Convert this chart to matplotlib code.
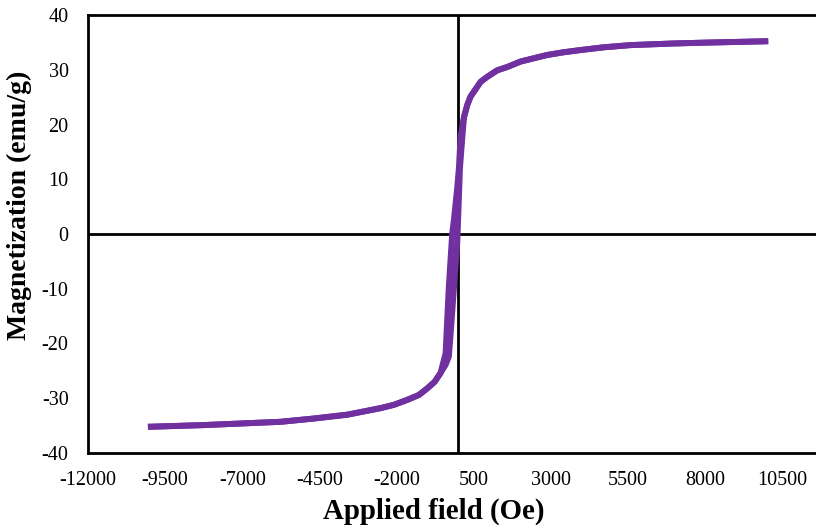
import matplotlib.pyplot as plt
import numpy as np

# rama descendente (campo de +10000 a -10000)
H_bajada = [9960, 8000, 7000, 5590, 4725, 3970, 3430, 2890, 2025, 1595, 1270, 945, 730, 405,
            300, 190, 135, 80, 30, -25, -135, -190, -300, -405, -570, -760, -1000, -1270,
            -1650, -2080, -2510, -3590, -4670, -5750, -8240, -9960]
M_bajada = [35.2, 34.95, 34.8, 34.5, 34.1, 33.6, 33.2, 32.7, 31.5, 30.5, 29.9, 28.7, 27.8, 25.1,
            23.6, 21.4, 19.5, 17.8, 12.3, 8.6, 2.6, 0.1, -9.6, -21.8, -25.4, -27.0, -28.2, -29.4,
            -30.3, -31.2, -31.8, -33.0, -33.7, -34.3, -34.9, -35.2]

# rama ascendente (campo de -10000 a +10000)
H_subida = [-9960, -8240, -5750, -4670, -3590, -2510, -2080, -1650, -1270, -1000, -760, -570,
            -405, -300, -240, -25, 60, 135, 190, 300, 405, 730, 945, 1270, 1595, 2025, 2890,
            3430, 3970, 4725, 5590, 7000, 8000, 9960]
M_subida = [-35.2, -34.9, -34.3, -33.7, -33.0, -31.8, -31.2, -30.3, -29.4, -28.2, -27.0, -25.4,
            -23.9, -22.4, -18.1, -1.4, 12.0, 17.5, 21.2, 23.6, 25.1, 27.8, 28.7, 29.9, 30.5, 31.5,
            32.7, 33.2, 33.6, 34.1, 34.5, 34.8, 34.95, 35.2]

xticks = list(range(-12000, 10501, 2500))
yticks = list(range(-40, 41, 10))

plt.rcParams['font.family'] = 'Liberation Serif'
plt.rcParams['axes.unicode_minus'] = False

fig = plt.figure(figsize=(8.16, 5.29), dpi=100)
# el eje derecho queda fuera de la imagen, como en el original
ax = fig.add_axes([88/816, (529-453)/529, (859-88)/816, (453-15)/529])

color = '#7030A0'
ax.plot(H_bajada, M_bajada, color=color, lw=4.3, solid_joinstyle='round')
ax.plot(H_subida, M_subida, color=color, lw=4.3, solid_joinstyle='round')

ax.axhline(0, color='black', lw=2.0, zorder=1)
ax.axvline(0, color='black', lw=2.0, zorder=1)

ax.set_xlim(-12000, 13000)
ax.set_ylim(-40, 40)
ax.set_xticks(xticks)
ax.set_yticks(yticks)
ax.tick_params(length=0, labelsize=14.5)
ax.tick_params(axis='x', pad=13)
ax.tick_params(axis='y', pad=14)
for s in ax.spines.values():
    s.set_linewidth(2.0)

ax.set_xlabel('Applied field (Oe)', fontsize=20.8, fontweight='bold', va='center')
ax.set_ylabel('Magnetization (emu/g)', fontsize=20, fontweight='bold', va='center')
ax.xaxis.set_label_coords((434-88)/771, -(511-453)/438)
ax.yaxis.set_label_coords((19-88)/771, (453-205)/438)

plt.savefig('out.png', dpi=100)
